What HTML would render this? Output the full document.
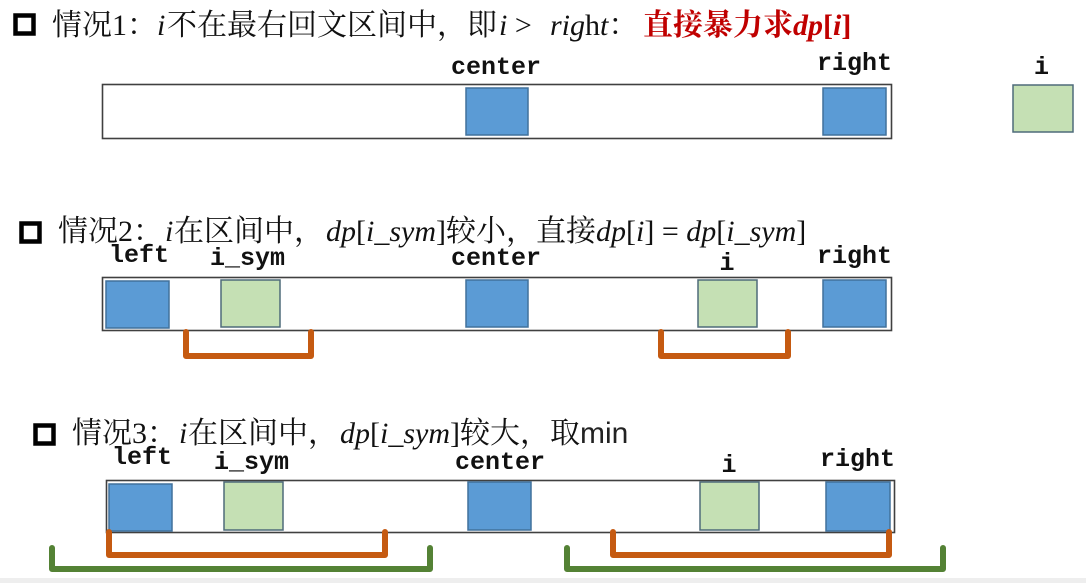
<!DOCTYPE html>
<html>
<head>
<meta charset="utf-8">
<style>
  html,body{margin:0;padding:0;background:#fff;}
  svg{display:block;}
  .t{font-family:"Liberation Serif","Noto Serif CJK SC",serif;font-size:30px;fill:#111;}
  .it{font-style:italic;}
  .red{fill:#c00000;font-weight:bold;}
  .lab{font-family:"Liberation Mono",monospace;font-weight:bold;font-size:25px;fill:#111;}
  .sans{font-family:"Liberation Sans",sans-serif;font-size:30px;fill:#222;}
  .bl{fill:#5b9bd5;stroke:#41719c;stroke-width:1.5;}
  .gr{fill:#c5e0b4;stroke:#4e6b7a;stroke-width:1.5;}
  .bar{fill:#fff;stroke:#404040;stroke-width:1.6;}
  .chk{fill:none;stroke:#000;stroke-width:4.5;}
  .or{fill:none;stroke:#c55a11;stroke-width:6;stroke-linejoin:round;stroke-linecap:round;}
  .gn{fill:none;stroke:#548235;stroke-width:6;stroke-linejoin:round;stroke-linecap:round;}
</style>
</head>
<body>
<svg width="1086" height="583" viewBox="0 0 1086 583" xmlns="http://www.w3.org/2000/svg">
  <rect x="0" y="0" width="1086" height="583" fill="#fff"/>
  <rect x="0" y="578" width="1086" height="5" fill="#eeeeee"/>

  <!-- Case 1 -->
  <rect class="chk" x="15.5" y="15.5" width="18" height="18"/>
  <text class="t" x="52" y="35">情况1：</text>
  <text class="t it" x="157" y="35">i</text>
  <text class="t" x="167" y="35">不在最右回文区间中，即</text>
  <text class="t" x="499" y="35"><tspan class="it">i</tspan> &gt; </text>
  <text class="t" x="550" y="35"><tspan class="it">rig</tspan>h<tspan class="it">t</tspan>：</text>
  <text class="t red" x="643" y="35">直接暴力求<tspan class="it">dp</tspan>[<tspan class="it">i</tspan>]</text>

  <text class="lab" x="451" y="74">center</text>
  <text class="lab" x="817" y="70">right</text>
  <text class="lab" x="1034" y="74">i</text>

  <rect class="bar" x="102.5" y="84.5" width="789" height="54"/>
  <rect class="bl" x="466" y="88" width="62" height="47"/>
  <rect class="bl" x="823" y="88" width="63" height="47"/>
  <rect class="gr" x="1013" y="85" width="60" height="47"/>

  <!-- Case 2 -->
  <rect class="chk" x="21.5" y="223.5" width="18" height="18"/>
  <text class="t" x="58" y="241">情况2：</text>
  <text class="t it" x="165" y="241">i</text>
  <text class="t" x="174" y="241">在区间中，</text>
  <text class="t" x="326" y="241"><tspan class="it">dp</tspan>[<tspan class="it">i_sym</tspan>]</text>
  <text class="t" x="446" y="241">较小，直接</text>
  <text class="t" x="596" y="241"><tspan class="it">dp</tspan>[<tspan class="it">i</tspan>] = <tspan class="it">dp</tspan>[<tspan class="it">i_sym</tspan>]</text>

  <text class="lab" x="109" y="262">left</text>
  <text class="lab" x="210" y="265">i_sym</text>
  <text class="lab" x="451" y="265">center</text>
  <text class="lab" x="719.5" y="270">i</text>
  <text class="lab" x="817" y="263">right</text>

  <rect class="bar" x="102.5" y="277.5" width="789" height="53"/>
  <rect class="bl" x="106" y="281" width="63" height="47"/>
  <rect class="gr" x="221" y="280" width="59" height="47"/>
  <rect class="bl" x="466" y="280" width="62" height="47"/>
  <rect class="gr" x="698" y="280" width="59" height="47"/>
  <rect class="bl" x="823" y="280" width="63" height="47"/>

  <path class="or" d="M186,332 V356 H311 V332"/>
  <path class="or" d="M661,332 V356 H788 V332"/>

  <!-- Case 3 -->
  <rect class="chk" x="35.5" y="425.5" width="18" height="18"/>
  <text class="t" x="72" y="443">情况3：</text>
  <text class="t it" x="179" y="443">i</text>
  <text class="t" x="188" y="443">在区间中，</text>
  <text class="t" x="340" y="443"><tspan class="it">dp</tspan>[<tspan class="it">i_sym</tspan>]</text>
  <text class="t" x="460" y="443">较大，取</text>
  <text class="sans" x="580" y="443">min</text>

  <text class="lab" x="112" y="464">left</text>
  <text class="lab" x="214" y="469">i_sym</text>
  <text class="lab" x="455" y="469">center</text>
  <text class="lab" x="721.5" y="472">i</text>
  <text class="lab" x="820" y="466">right</text>

  <rect class="bar" x="106.5" y="480.5" width="788" height="52"/>
  <rect class="bl" x="109" y="484" width="63" height="47"/>
  <rect class="gr" x="224" y="482" width="59" height="48"/>
  <rect class="bl" x="468" y="482" width="63" height="48"/>
  <rect class="gr" x="700" y="482" width="59" height="48"/>
  <rect class="bl" x="826" y="482" width="64" height="49"/>

  <path class="or" d="M109,532 V555 H385 V532"/>
  <path class="or" d="M613,532 V555 H889 V532"/>
  <path class="gn" d="M52,548 V569 H430 V548"/>
  <path class="gn" d="M567,548 V569 H943 V548"/>
</svg>
</body>
</html>
